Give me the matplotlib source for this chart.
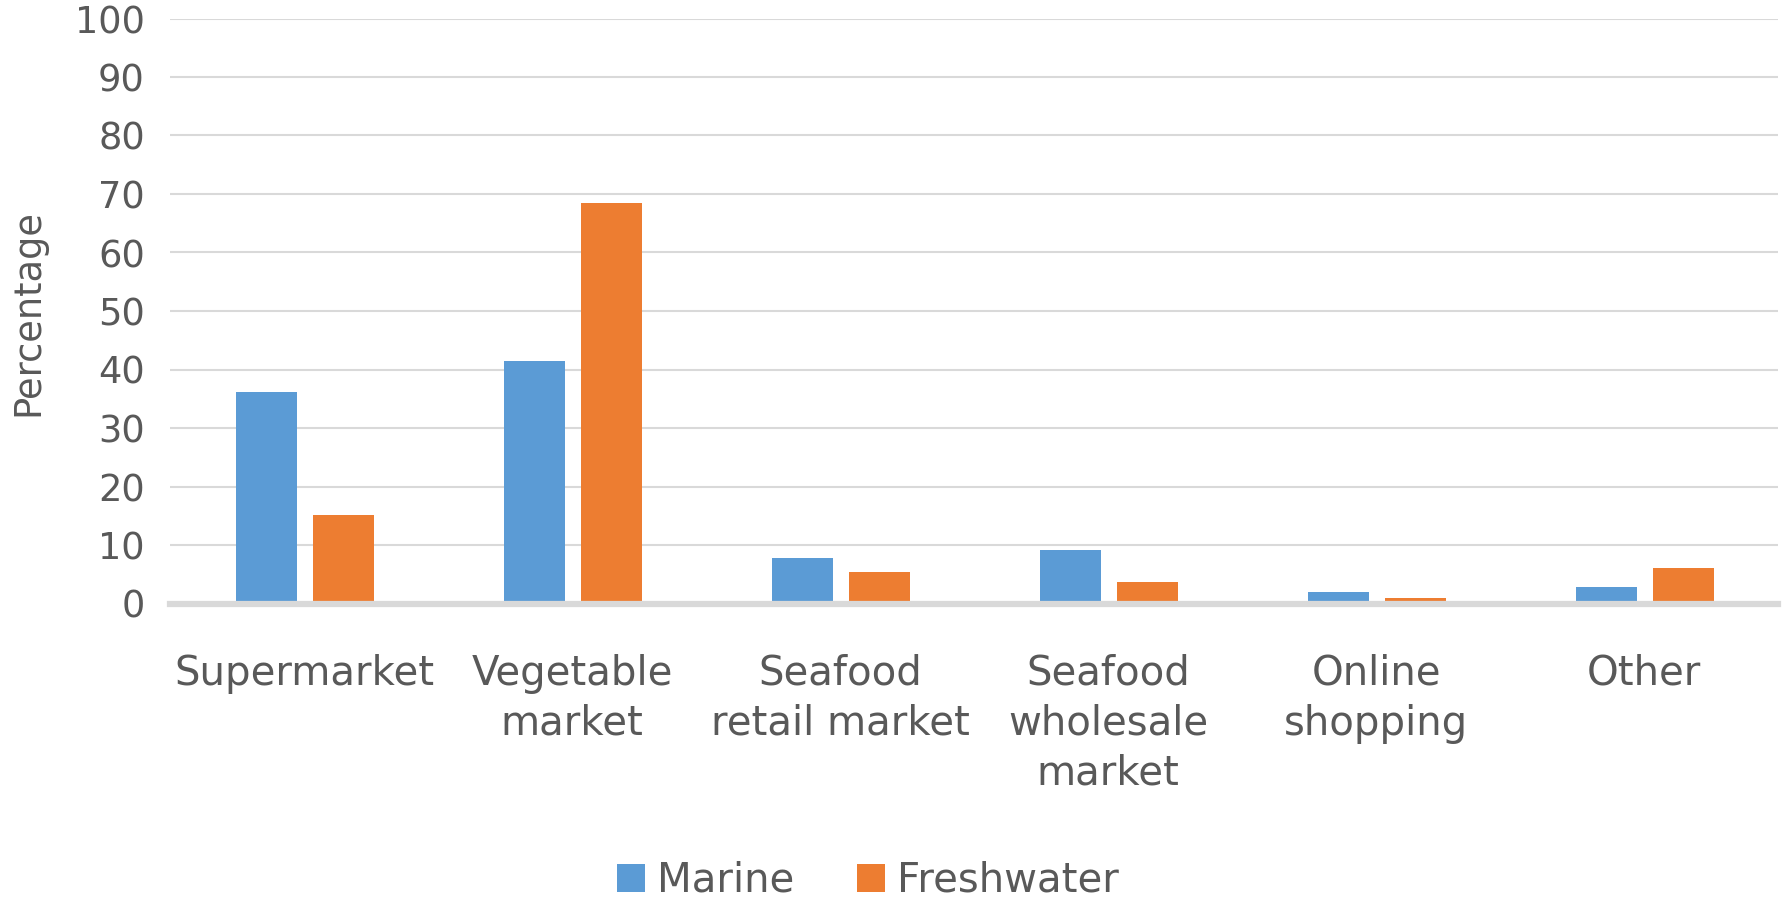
import numpy as np
import matplotlib
matplotlib.use('Agg')
import matplotlib.pyplot as plt

plt.rcParams['font.family'] = ['DejaVu Sans']

categories = ['Supermarket', 'Vegetable\nmarket', 'Seafood\nretail market',
              'Seafood\nwholesale\nmarket', 'Online\nshopping', 'Other']
marine = [36.2, 41.5, 7.7, 9.1, 1.9, 2.8]
freshwater = [15.1, 68.4, 5.3, 3.6, 0.9, 6.0]

text_c = '#595959'
grid_c = '#d9d9d9'

fig = plt.figure(figsize=(17.82, 9), dpi=100)
ax = fig.add_axes([170 / 1782, 1 - 603.5 / 900, 1608 / 1782, 585 / 900])

x = np.arange(len(categories))
w = 0.228
ax.bar(x - 0.140, marine, w, color='#5B9BD5', label='Marine', zorder=2)
ax.bar(x + 0.146, freshwater, w, color='#ED7D31', label='Freshwater', zorder=2)

ax.set_xlim(-0.5, len(categories) - 0.5)
ax.set_ylim(0, 100)
ax.set_yticks(np.arange(0, 101, 10))
ax.set_xticks(x)
ax.set_xticklabels(categories, linespacing=1.33)

for y in range(10, 101, 10):
    ax.axhline(y, color=grid_c, lw=1.5, zorder=1)
ax.axhline(0, color=grid_c, lw=4.5, zorder=3, clip_on=False)

for s in ax.spines.values():
    s.set_visible(False)
ax.tick_params(axis='y', length=0, pad=18, labelsize=26.5, labelcolor=text_c)
ax.tick_params(axis='x', length=0, pad=36, labelsize=29, labelcolor=text_c)

fig.text(28 / 1782, 1 - 312 / 900, 'Percentage', rotation=90, fontsize=26.5,
         color=text_c, ha='center', va='center')

fig.legend(loc='center', bbox_to_anchor=(868 / 1782, 1 - 881 / 900), ncol=2,
           frameon=False, fontsize=29, labelcolor=text_c, handlelength=0.7,
           handleheight=0.7, handletextpad=0.3, columnspacing=1.55)

fig.savefig('out.png', dpi=100, facecolor='white')
